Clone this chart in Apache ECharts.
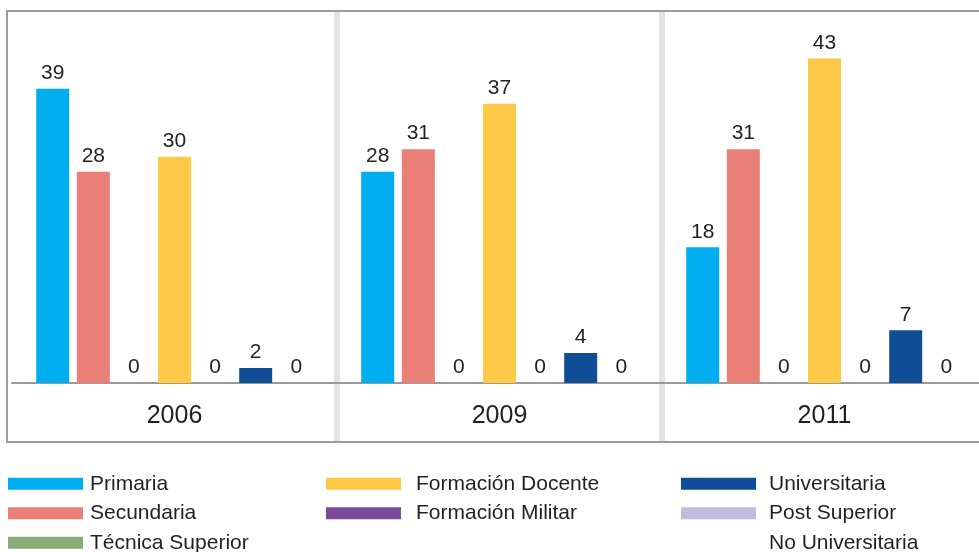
<!DOCTYPE html>
<html>
<head>
<meta charset="utf-8">
<script src="https://cdn.jsdelivr.net/npm/echarts@6/dist/echarts.min.js"></script>
<style>
html,body{margin:0;padding:0;background:#fff;}
#chart{width:979px;height:552px;}
</style>
</head>
<body>
<div id="chart"></div>
<script>
// ---- data ----
var years = ['2006', '2009', '2011'];
var seriesNames = ['Primaria', 'Secundaria', 'Técnica Superior', 'Formación Docente', 'Formación Militar', 'Universitaria', 'Post Superior No Universitaria'];
var primaria = [39, 28, 18];
var secundaria = [28, 31, 31];
var tecnicaSuperior = [0, 0, 0];
var formacionDocente = [30, 37, 43];
var formacionMilitar = [0, 0, 0];
var universitaria = [2, 4, 7];
var postSuperior = [0, 0, 0];

var values = [primaria, secundaria, tecnicaSuperior, formacionDocente, formacionMilitar, universitaria, postSuperior];
var colors = ['#00aeef', '#e97f77', '#88ab78', '#fec946', '#7c4a99', '#0f4e96', '#c2bbdc'];

var FONT = '"Liberation Sans", Arial, Helvetica, sans-serif';
var TXT = '#231f20';

var series = seriesNames.map(function (name, i) {
  return {
    name: name,
    type: 'bar',
    data: values[i],
    barWidth: 33,
    barGap: '23%',
    itemStyle: { color: colors[i] },
    label: {
      show: true,
      position: 'top',
      distance: 5,
      color: TXT,
      fontSize: 21,
      fontFamily: FONT
    }
  };
});

function mkLegend(left, data, padLeft) {
  return {
    orient: 'vertical',
    left: left,
    top: 469,
    height: 150,
    padding: 0,
    itemWidth: 75,
    itemHeight: 12,
    itemGap: 0,
    icon: 'rect',
    selectedMode: false,
    textStyle: { color: TXT, fontSize: 21, lineHeight: 29.5, fontFamily: FONT, padding: [0, 0, 0, padLeft] },
    data: data
  };
}

var chart = echarts.init(document.getElementById('chart'), null, { renderer: 'canvas' });
chart.setOption({
  animation: false,
  backgroundColor: '#ffffff',
  textStyle: { fontFamily: FONT },
  grid: { left: 12, top: 11, width: 975, height: 431, containLabel: false, outerBoundsMode: 'none' },
  xAxis: {
    type: 'category',
    data: years,
    axisLine: { show: true, onZero: true, lineStyle: { color: '#9a9a9a', width: 2 } },
    axisTick: { show: false },
    axisLabel: { color: TXT, fontSize: 25, margin: -38, fontFamily: FONT },
    splitLine: {
      show: true,
      interval: function (index) { return index !== 0; },
      lineStyle: { color: '#e4e4e6', width: 6 }
    }
  },
  yAxis: {
    type: 'value',
    min: -7.8,
    max: 49.3,
    show: false,
    splitLine: { show: false }
  },
  legend: [
    mkLegend(8, [seriesNames[0], seriesNames[1], seriesNames[2]], 2),
    mkLegend(326, [seriesNames[3], seriesNames[4]], 10),
    mkLegend(681, [seriesNames[5]], 8),
    Object.assign(mkLegend(681, [seriesNames[6]], 8), {
      formatter: function (n) { return n === 'Post Superior No Universitaria' ? ' \nPost Superior\nNo Universitaria' : n; }
    })
  ],
  graphic: [{
    type: 'rect',
    z: 100,
    shape: { x: 7, y: 11, width: 990, height: 431 },
    style: { fill: 'none', stroke: '#9d9d9d', lineWidth: 2 },
    silent: true
  }],
  series: series
});
</script>
</body>
</html>
